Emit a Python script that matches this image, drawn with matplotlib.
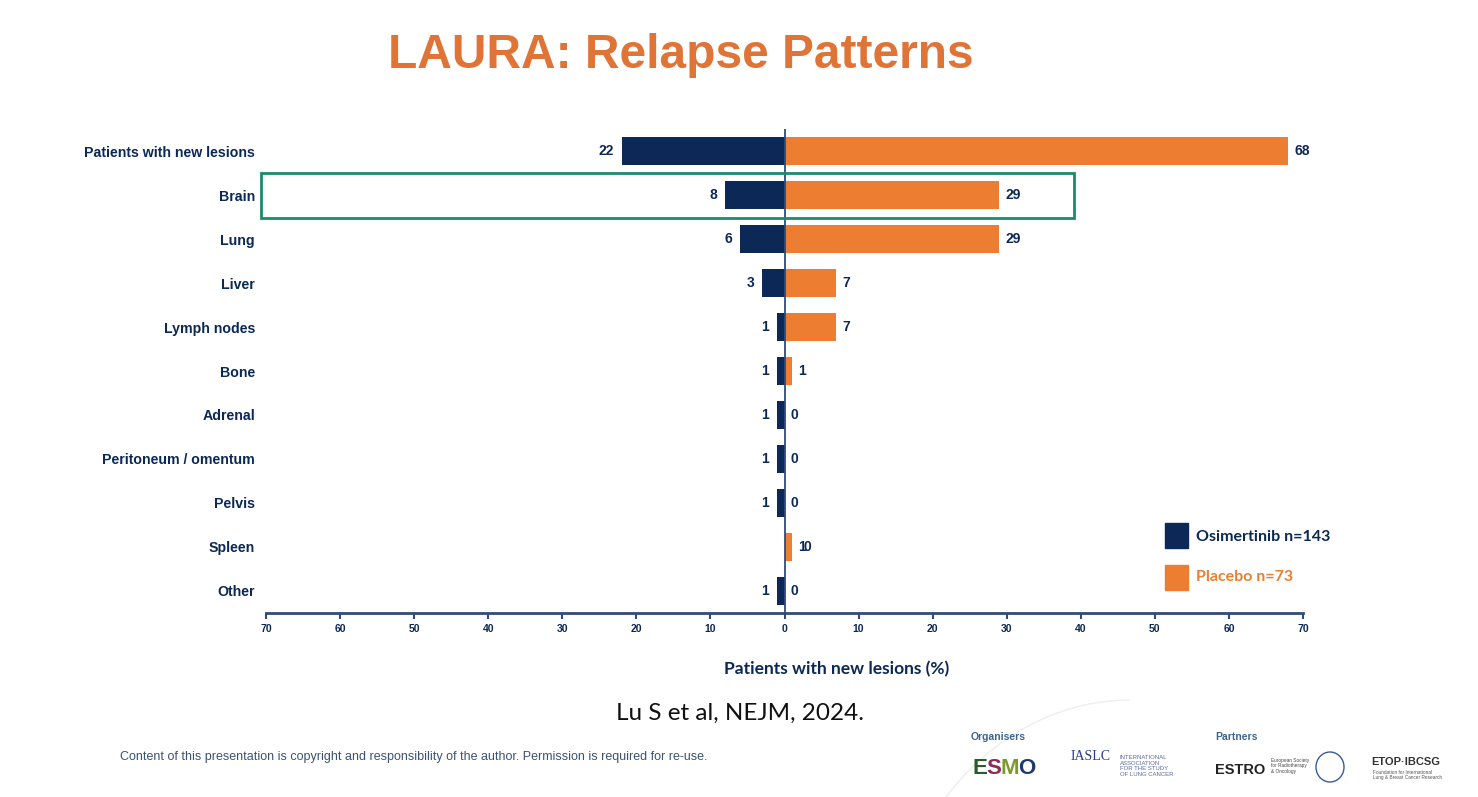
import matplotlib.pyplot as plt
from matplotlib.patches import Rectangle, Arc

plt.rcParams['font.family'] = ['Liberation Sans', 'DejaVu Sans']

categories = ["Patients with new lesions", "Brain", "Lung", "Liver", "Lymph nodes",
              "Bone", "Adrenal", "Peritoneum / omentum", "Pelvis", "Spleen", "Other"]
osimertinib = [22, 8, 6, 3, 1, 1, 1, 1, 1, 0, 1]
placebo = [68, 29, 29, 7, 7, 1, 0, 0, 0, 1, 0]
ticks = list(range(-70, 71, 10))
highlight = "Brain"

navy = "#0b2857"
orange = "#ed7d31"
axis_col = "#2f4b7c"

fig = plt.figure(figsize=(14.78, 7.97), dpi=100)
ax = fig.add_axes([0.18, 0.2309, 0.7016, 0.6072])

y = list(range(len(categories)))
osi_neg = [-v for v in osimertinib]
ax.barh(y, osi_neg, height=0.62, color=navy)
ax.barh(y, placebo, height=0.62, color=orange)
ax.axvline(0, color=axis_col, lw=1.3, zorder=3)

for i in y:
    if osimertinib[i] > 0:
        ax.text(-osimertinib[i] - 1.1, i, str(osimertinib[i]), ha="right", va="center",
                fontsize=10, fontweight="bold", color=navy)
    else:
        # zero label ends up on the right, overlapping the placebo label
        ax.text(placebo[i] + 1.5, i, "0", ha="left", va="center",
                fontsize=10, fontweight="bold", color=navy)
    ax.text(placebo[i] + 0.8, i, str(placebo[i]), ha="left", va="center",
            fontsize=10, fontweight="bold", color=navy)

ax.set_xlim(-70, 70)
ax.set_ylim(len(categories) - 0.5, -0.5)
ax.set_yticks(y)
ax.set_yticklabels(categories, fontsize=10.2, fontweight="bold", color=navy)
ax.tick_params(axis="y", length=0, pad=8)
ax.set_xticks(ticks)
ax.set_xticklabels([str(abs(t)) for t in ticks], fontsize=7.5, fontweight="bold", color=navy)
ax.tick_params(axis="x", length=4, width=1.5, color=axis_col, pad=4)
for s in ["top", "left", "right"]:
    ax.spines[s].set_visible(False)
ax.spines["bottom"].set_color(axis_col)
ax.spines["bottom"].set_linewidth(2)
ax.set_xlabel("Patients with new lesions (%)", fontsize=12.5, fontweight="bold",
              color=navy, family="Lato")
ax.xaxis.set_label_coords(0.55, -0.1)

# highlight box around Brain row
hi = categories.index(highlight)
ax.add_patch(Rectangle((-70.7, hi - 0.5), 109.8, 1.02, fill=False, ec="#1a8c6c",
                       lw=2, clip_on=False, zorder=4))

# legend
fig.patches.append(Rectangle((1165 / 1478, 1 - 548 / 797), 23 / 1478, 25 / 797,
                             transform=fig.transFigure, color=navy))
fig.patches.append(Rectangle((1165 / 1478, 1 - 590 / 797), 23 / 1478, 25 / 797,
                             transform=fig.transFigure, color=orange))
fig.text(1196 / 1478, 1 - 537 / 797, "Osimertinib n=143", fontsize=11.5, fontweight="bold",
         color=navy, family="Lato", va="center")
fig.text(1196 / 1478, 1 - 577 / 797, "Placebo n=73", fontsize=11.5, fontweight="bold",
         color=orange, family="Lato", va="center")

# title and footer
fig.text(681 / 1478, 1 - 55 / 797, "LAURA: Relapse Patterns", fontsize=34.5, fontweight="bold",
         color="#df7436", ha="center", va="center")
fig.text(740 / 1478, 1 - 713 / 797, "Lu S et al, NEJM, 2024.", fontsize=17.5, color="#111111",
         ha="center", va="center", family="Lato")
fig.text(120 / 1478, 1 - 757 / 797,
         "Content of this presentation is copyright and responsibility of the author. Permission is required for re-use.",
         fontsize=9, color="#3b5274", va="center")

# sponsor area
fig.text(971 / 1478, 1 - 737 / 797, "Organisers", fontsize=7.5, fontweight="bold",
         color="#3d6590", va="center")
fig.text(1215 / 1478, 1 - 737 / 797, "Partners", fontsize=7.5, fontweight="bold",
         color="#3d6590", va="center")
for ch, c, xp in zip("ESMO", ["#2d5a2b", "#8e2b58", "#7a9a2a", "#1c3a6b"], [972, 986, 1000, 1018]):
    fig.text(xp / 1478, 1 - 768 / 797, ch, fontsize=16, fontweight="bold", color=c,
             va="center")
fig.text(1071 / 1478, 1 - 756 / 797, "IASLC", fontsize=10, color="#2a3a8a", va="center",
         family="Liberation Serif")
fig.text(1120 / 1478, 1 - 766 / 797, "INTERNATIONAL\nASSOCIATION\nFOR THE STUDY\nOF LUNG CANCER",
         fontsize=4.3, color="#5a6aa0", va="center", linespacing=1.1)
fig.text(1215 / 1478, 1 - 770 / 797, "ESTRO", fontsize=10.5, fontweight="bold", color="#222222",
         va="center")
fig.text(1271 / 1478, 1 - 766 / 797, "European Society\nfor Radiotherapy\n& Oncology",
         fontsize=3.4, color="#444444", va="center")
fig.text(1371 / 1478, 1 - 762 / 797, "ETOP\u00b7IBCSG", fontsize=8, fontweight="bold",
         color="#333333", va="center")
fig.text(1373 / 1478, 1 - 775 / 797, "Foundation for International\nLung & Breast Cancer Research",
         fontsize=3.4, color="#555555", va="center")
fig.patches.append(Arc((1330 / 1478, 1 - 767 / 797), 28 / 1478, 30 / 797,
                       transform=fig.transFigure, color="#3a5a9a", lw=1))
fig.patches.append(Arc((1130 / 1478, 1 - 1000 / 797), 500 / 1478, 600 / 797, theta1=90, theta2=170,
                       transform=fig.transFigure, color="#eeeeee", lw=1))

fig.savefig("out.png", dpi=100)
